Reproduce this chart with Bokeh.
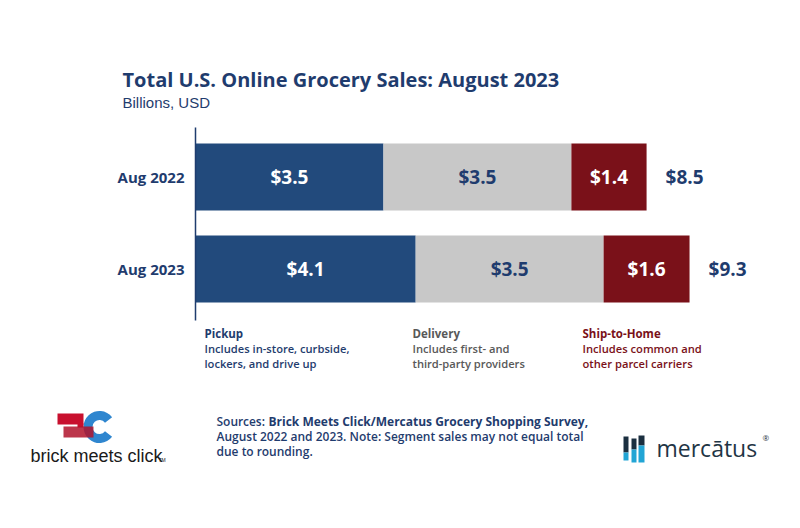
import numpy as np
from bokeh.plotting import figure
from bokeh.models import Range1d
from bokeh.core.properties import value
from bokeh.embed import file_html
from bokeh.resources import INLINE

# ---------------- data ----------------
categories = ["Aug 2022", "Aug 2023"]
pickup = [3.5, 4.1]
delivery = [3.5, 3.5]
ship_to_home = [1.4, 1.6]
totals = [8.5, 9.3]
segment_names = ["Pickup", "Delivery", "Ship-to-Home"]

title = "Total U.S. Online Grocery Sales: August 2023"
subtitle = "Billions, USD"

# ---------------- style ----------------
NAVY = "#1F3C6E"
BLUE = "#224A7C"
GRAY = "#C8C8C8"
RED = "#7A1119"
DGRAY = "#595959"
FONT = "Open Sans"
SEMI = "Open Sans SemiBold, Open Sans"

W, H = 784, 512
OFF = 0             # page offset of the canvas
PXU = 53.7          # pixels per billion
X0 = 195            # page x of value 0
YU = 92             # pixels between categories
Y0 = 268.5          # page y of last category

x_range = Range1d((OFF - X0) / PXU, (OFF + W - X0) / PXU)
y_range = Range1d(-(OFF + H - Y0) / YU, (Y0 - OFF) / YU)

p = figure(width=W, height=H, x_range=x_range, y_range=y_range,
           output_backend="svg", toolbar_location=None, min_border=0,
           x_axis_location=None, y_axis_location=None)
p.extra_x_ranges = {"px": Range1d(OFF, OFF + W)}
p.extra_y_ranges = {"px": Range1d(OFF + H, OFF)}
p.outline_line_color = None
p.background_fill_color = "white"
p.border_fill_color = "white"
for g in p.grid:
    g.visible = False

n = len(categories)
ypos = np.array([n - 1 - i for i in range(n)], dtype=float)


def ptext(x, y, s, size, color, bold=False, font=FONT, align="left"):
    p.text(x=[x], y=[y], text=[s], x_range_name="px", y_range_name="px",
           text_font=value(font), text_font_size=f"{size}px",
           text_font_style="bold" if bold else "normal",
           text_color=color, text_align=align, text_baseline="middle")


# ---------------- bars ----------------
series = [pickup, delivery, ship_to_home]
colors = [BLUE, GRAY, RED]
label_colors = ["white", NAVY, "white"]
cum = np.zeros(n)
for vals, col, lcol in zip(series, colors, label_colors):
    v = np.array(vals, dtype=float)
    p.hbar(y=ypos, left=cum, right=cum + v, height=67 / YU,
           fill_color=col, line_color=None)
    p.text(x=cum + v / 2, y=ypos, text=[f"${x:.1f}" for x in v],
           text_font=value(FONT), text_font_size="19px", text_font_style="bold",
           text_color=lcol, text_align="center", text_baseline="middle")
    cum = cum + v

p.text(x=cum, y=ypos, text=[f"${t:.1f}" for t in totals], x_offset=19,
       text_font=value(FONT), text_font_size="19px", text_font_style="bold",
       text_color=NAVY, text_align="left", text_baseline="middle")

# category labels
p.text(x=np.zeros(n), y=ypos, text=categories, x_offset=-11,
       text_font=value(FONT), text_font_size="15px", text_font_style="bold",
       text_color=NAVY, text_align="right", text_baseline="middle")

# axis line
p.segment(x0=[X0], y0=[127], x1=[X0], y1=[320], x_range_name="px", y_range_name="px",
          line_color=NAVY, line_width=1.5)

# ---------------- titles ----------------
ptext(122, 79, title, 20, NAVY, bold=True)
ptext(122, 102, subtitle, 15, NAVY, font="Liberation Sans")

# ---------------- segment notes ----------------
notes = [
    (204, NAVY, segment_names[0], ["Includes in-store, curbside,", "lockers, and drive up"]),
    (412, DGRAY, segment_names[1], ["Includes first- and", "third-party providers"]),
    (582, RED, segment_names[2], ["Includes common and", "other parcel carriers"]),
]
for x, col, head, lines in notes:
    ptext(x, 333, head, 11.5, col, bold=True)
    for k, ln in enumerate(lines):
        ptext(x, 348 + 15 * k, ln, 11.2, col, font=SEMI)

# ---------------- sources ----------------
ptext(216, 421, "Sources:", 12, NAVY, font=SEMI)
ptext(268, 421, "Brick Meets Click/Mercatus Grocery Shopping Survey,", 12, NAVY, bold=True)
ptext(216, 436, "August 2022 and 2023. Note: Segment sales may not equal total", 12, NAVY, font=SEMI)
ptext(216, 451, "due to rounding.", 12, NAVY, font=SEMI)

# ---------------- brick meets click logo ----------------
p.annular_wedge(x=[99], y=[426.5], inner_radius=7, outer_radius=16,
                start_angle=np.radians(38), end_angle=np.radians(322),
                x_range_name="px", y_range_name="px",
                fill_color="#2F86CF", line_color=None)
p.quad(left=[57], right=[83], top=[413], bottom=[424], x_range_name="px",
       y_range_name="px", fill_color="#C8102E", line_color=None)
p.quad(left=[77], right=[83], top=[423], bottom=[427], x_range_name="px",
       y_range_name="px", fill_color="#C8102E", line_color=None)
p.quad(left=[63], right=[93], top=[426], bottom=[437], x_range_name="px",
       y_range_name="px", fill_color="#B0132B", fill_alpha=0.85, line_color=None)
ptext(30, 455, "brick meets click", 18, "#1A1A1A", font="Liberation Sans")
ptext(158, 459, "TM", 5, "#1A1A1A", font="Liberation Sans")

# ---------------- mercatus logo ----------------
m_left = [623, 631, 638]
m_right = [628, 636, 644]
m_top = [436, 438, 435]
m_mid = [452, 449, 445]
m_bot = [460, 462, 462]
p.quad(left=m_left, right=m_right, top=m_top, bottom=m_mid, x_range_name="px",
       y_range_name="px", fill_color="#1B2F40", line_color=None)
p.quad(left=m_left, right=m_right, top=m_mid, bottom=m_bot, x_range_name="px",
       y_range_name="px", fill_color="#22A5D5", line_color=None)
ptext(656, 447, "mercātus", 23, "#1F3545")
ptext(762, 437, "®", 8, "#1F3545")

open("out.html", "w").write(file_html(p, INLINE))
